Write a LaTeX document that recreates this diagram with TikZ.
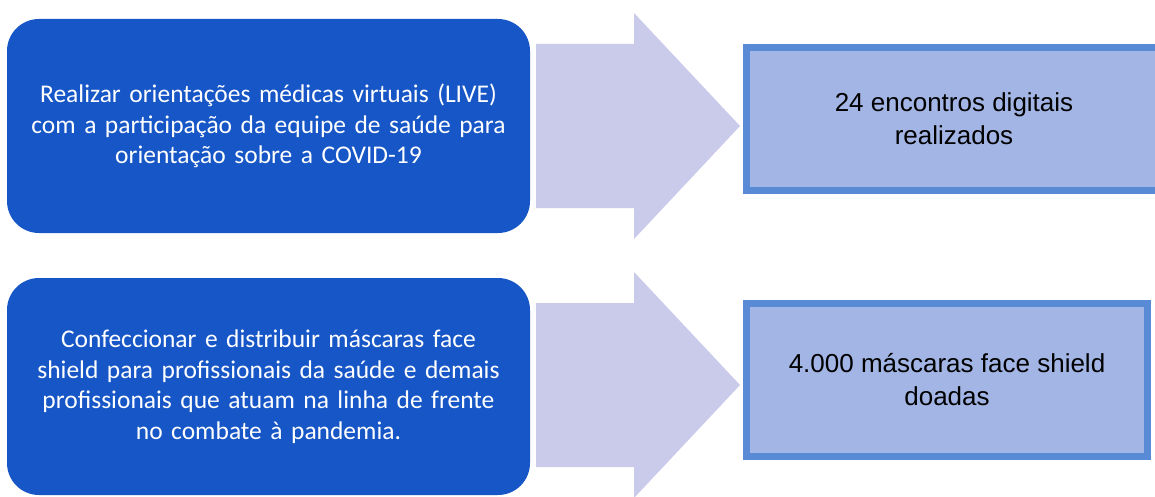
\documentclass[tikz,border=0pt]{standalone}
\usepackage{fontspec}
\setmainfont{Carlito}
\newfontfamily\arialf{Liberation Sans}
\definecolor{leftblue}{RGB}{22,86,198}
\definecolor{arrowc}{RGB}{202,202,234}
\definecolor{rfill}{RGB}{162,181,228}
\definecolor{rborder}{RGB}{88,138,214}
\begin{document}
\begin{tikzpicture}[x=1pt,y=-1pt,
  actbox/.style={fill=leftblue, rounded corners=32pt, text=white, align=center,
    text width=515pt, inner sep=0pt, font=\fontsize{25.5}{30.5}\selectfont},
  resbox/.style={fill=rfill, draw=rborder, line width=7pt, align=center,
    inner sep=0pt, font=\arialf\fontsize{26}{33}\selectfont},
  blockarrow/.style={fill=arrowc}
]
\useasboundingbox (0,0) rectangle (1155,497);
\fill[white] (0,0) rectangle (1155,497);

\node[actbox, minimum width=523pt, minimum height=214pt] (a1) at (268.5,126)
  {Realizar orientações médicas virtuais (LIVE)\\com a participação da equipe de saúde para\\orientação sobre a COVID-19};
\node[actbox, minimum width=523pt, minimum height=217pt] (a2) at (268.5,386.5)
  {Confeccionar e distribuir máscaras face\\shield para profissionais da saúde e demais\\profissionais que atuam na linha de frente\\no combate à pandemia.};

\node[resbox, minimum width=440pt, minimum height=143pt] (r1) at (966.5,119)
  {\hspace*{-25pt}24 encontros digitais\\\hspace*{-25pt}realizados};
\node[resbox, minimum width=401pt, minimum height=153pt] (r2) at (947,380)
  {4.000 máscaras face shield\\doadas};

\fill[blockarrow] (536,44) -- (634,44) -- (634,13) -- (740,126) -- (634,239) -- (634,208) -- (536,208) -- cycle;
\fill[blockarrow] (536,303) -- (634,303) -- (634,272) -- (740,385) -- (634,498) -- (634,467) -- (536,467) -- cycle;
\end{tikzpicture}
\end{document}
